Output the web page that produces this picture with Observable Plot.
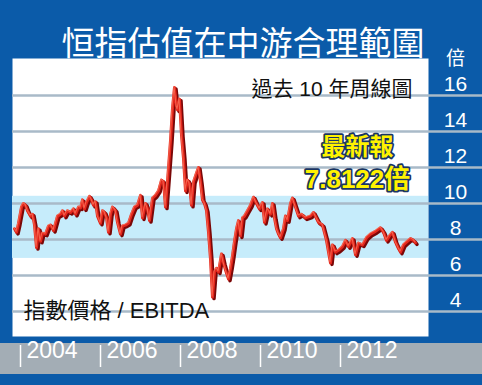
<!DOCTYPE html>
<html>
<head>
<meta charset="utf-8">
<script src="https://cdn.jsdelivr.net/npm/d3@7"></script>
<script src="https://cdn.jsdelivr.net/npm/@observablehq/plot@0.6"></script>
<style>
  html, body { margin: 0; padding: 0; background: #0b5ba9; }
  #chart {
    width: 482px; height: 385px; overflow: hidden;
    background: linear-gradient(to bottom, #0b5ba9 0px, #0b5ba9 343px, #a3adb5 343px, #a3adb5 374px, #0b5ba9 374px);
  }
  #chart svg { display: block; }
</style>
</head>
<body>
<div id="chart"></div>
<script>
const title = "恒指估值在中游合理範圍";
const subtitle = "過去 10 年周線圖";
const unitLabel = "倍";
const seriesLabel = "指數價格 / EBITDA";
const latestLabel = "最新報";
const latestValue = "7.8122倍";

const yTicks = [4, 6, 8, 10, 12, 14, 16];
const xTicks = [2004, 2006, 2008, 2010, 2012];
const bandLow = 6.95;
const bandHigh = 10.4;

const weeks = [
  2003.850, 2003.900, 2003.950, 2004.025, 2004.075, 2004.125, 2004.175, 2004.250, 2004.300, 2004.350,
  2004.400, 2004.450, 2004.500, 2004.550, 2004.625, 2004.700, 2004.750, 2004.825, 2004.925, 2005.000,
  2005.050, 2005.100, 2005.175, 2005.250, 2005.325, 2005.375, 2005.450, 2005.500, 2005.550, 2005.600,
  2005.650, 2005.725, 2005.775, 2005.825, 2005.875, 2005.925, 2006.000, 2006.050, 2006.100, 2006.150,
  2006.200, 2006.250, 2006.300, 2006.375, 2006.425, 2006.500, 2006.550, 2006.625, 2006.700, 2006.775,
  2006.850, 2006.925, 2007.000, 2007.050, 2007.125, 2007.175, 2007.225, 2007.300, 2007.375, 2007.450,
  2007.525, 2007.575, 2007.625, 2007.700, 2007.750, 2007.800, 2007.850, 2007.900, 2007.925, 2007.975,
  2008.025, 2008.075, 2008.125, 2008.175, 2008.225, 2008.275, 2008.325, 2008.400, 2008.450, 2008.500,
  2008.550, 2008.600, 2008.650, 2008.700, 2008.750, 2008.800, 2008.850, 2008.900, 2008.950, 2009.025,
  2009.075, 2009.125, 2009.200, 2009.250, 2009.300, 2009.350, 2009.400, 2009.450, 2009.500, 2009.550,
  2009.600, 2009.675, 2009.750, 2009.825, 2009.900, 2009.975, 2010.050, 2010.100, 2010.175, 2010.250,
  2010.300, 2010.350, 2010.400, 2010.450, 2010.500, 2010.575, 2010.625, 2010.675, 2010.750, 2010.800,
  2010.875, 2010.950, 2011.025, 2011.125, 2011.250, 2011.325, 2011.450, 2011.550, 2011.650, 2011.700,
  2011.750, 2011.800, 2011.875, 2011.950, 2012.050, 2012.125, 2012.200, 2012.300, 2012.375, 2012.450,
  2012.550, 2012.650, 2012.750, 2012.875, 2013.000, 2013.075, 2013.150, 2013.225, 2013.300, 2013.375,
  2013.450, 2013.500, 2013.575, 2013.650, 2013.750, 2013.825, 2013.875
];
const ratios = [
  8.6, 8.4, 8.9, 9.8, 10.0, 9.9, 9.6, 9.3, 9.4, 8.8,
  7.55, 8.6, 7.9, 8.35, 8.3, 8.75, 8.8, 8.5, 9.3, 9.4,
  9.6, 9.3, 9.6, 9.5, 9.7, 9.4, 9.8, 9.75, 10.2, 9.7,
  10.05, 10.4, 10.2, 9.9, 10.1, 9.3, 8.9, 9.6, 9.5, 9.2,
  8.4, 9.4, 9.8, 9.6, 8.95, 8.3, 8.75, 8.8, 8.9, 9.4,
  9.8, 9.9, 10.45, 9.2, 10.0, 9.7, 9.05, 10.3, 10.45, 10.7,
  11.3, 11.2, 9.8, 12.0, 13.5, 15.3, 16.45, 15.4, 15.2, 15.8,
  13.8, 12.5, 10.7, 11.3, 11.1, 9.9, 11.2, 11.7, 12.0, 11.2,
  10.2, 10.0, 9.6, 8.4, 6.9, 4.8, 6.2, 6.4, 6.2, 7.2,
  6.7, 6.3, 5.8, 6.4, 7.1, 7.9, 8.6, 9.05, 8.2, 9.2,
  9.3, 9.6, 9.9, 10.35, 10.0, 9.7, 10.05, 8.95, 9.7, 9.4,
  10.0, 9.2, 8.6, 8.3, 8.1, 8.6, 9.3, 9.05, 10.0, 10.3,
  9.8, 9.3, 9.4, 9.2, 9.3, 9.5, 8.95, 8.8, 7.95, 7.3,
  6.7, 7.7, 7.3, 7.4, 7.6, 7.95, 7.6, 8.05, 7.15, 7.8,
  7.7, 8.1, 8.3, 8.45, 8.65, 8.4, 7.95, 8.2, 8.4, 7.85,
  7.5, 7.3, 7.7, 7.85, 8.05, 7.95, 7.8122
];

const rows = weeks.map((t, i) => ({t, v: ratios[i]}));

const latin = "'Liberation Sans', Arial, 'Noto Sans CJK TC', sans-serif";
const cjk = "'Noto Sans CJK TC', 'Liberation Sans', sans-serif";

const chart = Plot.plot({
  width: 482,
  height: 385,
  marginLeft: 12,
  marginRight: 54,
  marginTop: 58,
  marginBottom: 49,
  style: {background: "transparent", overflow: "visible"},
  x: {type: "linear", domain: [2004, 2012], range: [20, 340], axis: null, label: null},
  y: {type: "linear", domain: [4, 16], range: [311, 95], axis: null, label: null},
  marks: [
    Plot.frame({fill: "white", stroke: null}),
    Plot.rect([0], {y1: () => bandLow, y2: () => bandHigh, fill: "#c6ecfb"}),
    Plot.ruleY(yTicks, {stroke: "#a9bac8", strokeWidth: 2.5, insetRight: -54}),
    Plot.line(rows, {x: "t", y: "v", stroke: "#7a0707", strokeWidth: 3.5, dx: 1.5, dy: 1.5, strokeLinejoin: "round"}),
    Plot.line(rows, {x: "t", y: "v", stroke: "#e3261c", strokeWidth: 3, strokeLinejoin: "round"}),
    Plot.line(rows, {x: "t", y: "v", stroke: "#ff8a6e", strokeWidth: 1.1, dx: -0.5, dy: -1, strokeOpacity: 0.6, strokeLinejoin: "round"}),
    Plot.text(yTicks, {y: d => d, text: d => String(d), frameAnchor: "right", dx: 27, dy: -11, textAnchor: "middle", fill: "white", fontSize: 21, fontFamily: latin}),
    Plot.text([unitLabel], {text: d => d, frameAnchor: "top-right", dx: 27, dy: -7, textAnchor: "middle", fill: "white", fontSize: 19, fontFamily: cjk}),
    Plot.text([title], {text: d => d, frameAnchor: "top", dx: 22.5, dy: -27, textAnchor: "middle", fill: "white", fontSize: 33, fontFamily: cjk}),
    Plot.text([subtitle], {text: d => d, frameAnchor: "top-right", dx: -16, dy: 23, textAnchor: "end", fill: "#111", fontSize: 21, fontFamily: latin}),
    Plot.text([latestLabel], {text: d => d, frameAnchor: "top-right", dx: -71, dy: 79, textAnchor: "middle", fill: "#fff200", stroke: "#1a3563", strokeWidth: 3.5, paintOrder: "stroke", fontWeight: "bold", fontSize: 24, fontFamily: cjk}),
    Plot.text([latestValue], {text: d => d, frameAnchor: "top-right", dx: -71, dy: 111, textAnchor: "middle", fill: "#fff200", stroke: "#1a3563", strokeWidth: 3.5, paintOrder: "stroke", fontWeight: "bold", fontSize: 26, fontFamily: latin}),
    Plot.text([seriesLabel], {text: d => d, frameAnchor: "bottom-left", dx: 11, dy: -19, textAnchor: "start", fill: "#111", fontSize: 22, fontFamily: latin}),
    Plot.axisX(xTicks, {tickSize: 22, dy: 9, stroke: "white", strokeWidth: 1.5, tickFormat: () => "", label: null}),
    Plot.text(xTicks, {x: d => d, text: d => String(d), frameAnchor: "bottom", dx: 6, dy: 21, textAnchor: "start", fill: "white", fontSize: 23, fontFamily: latin})
  ]
});
document.getElementById("chart").appendChild(chart);
</script>
</body>
</html>
